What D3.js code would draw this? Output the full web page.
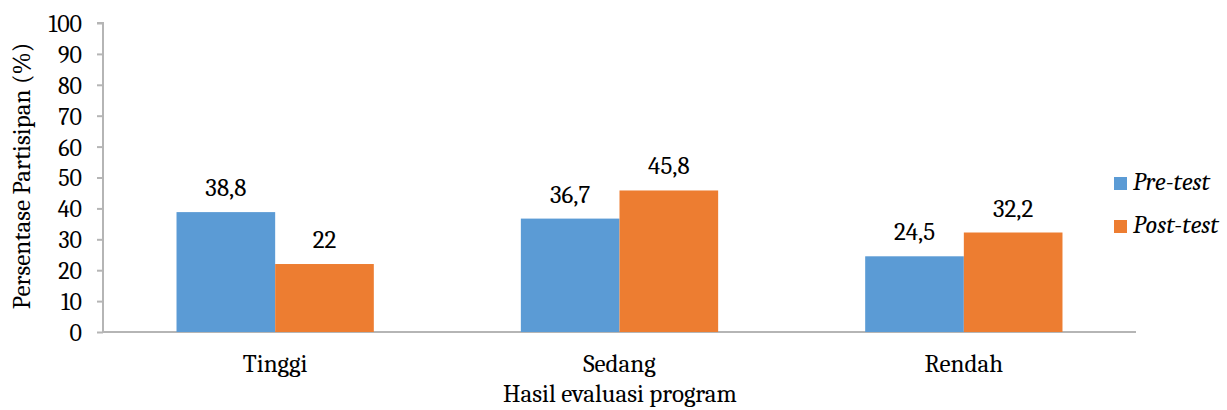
<!DOCTYPE html>
<html>
<head>
<meta charset="utf-8">
<title>Hasil evaluasi program</title>
<style>
  body { margin: 0; background: #fff; }
  svg text { font-family: Cambria, "DejaVu Serif", serif; fill: #000; }
  .axis path, .axis line { stroke: #b5b5b5; stroke-width: 2; }
</style>
</head>
<body>
<svg width="1227" height="410"></svg>
<script src="https://cdn.jsdelivr.net/npm/d3@7"></script>
<script>
// data
const categories = ['Tinggi', 'Sedang', 'Rendah'];
const seriesNames = ['Pre-test', 'Post-test'];
const preTest = [38.8, 36.7, 24.5];
const postTest = [22, 45.8, 32.2];
const yTicks = [0, 10, 20, 30, 40, 50, 60, 70, 80, 90, 100];
const colors = ['#5b9bd5', '#ed7d31'];

const svg = d3.select('svg');
const plotLeft = 103, plotRight = 1136, plotTop = 23, plotBottom = 332;

const x = d3.scaleBand().domain(categories).range([plotLeft, plotRight]);
const x1 = d3.scaleBand().domain(seriesNames)
  .range([0, x.bandwidth() * 0.573]);
const y = d3.scaleLinear().domain([0, 100]).range([plotBottom, plotTop]);

// y axis
const yAxis = svg.append('g')
  .attr('class', 'axis')
  .attr('transform', `translate(${plotLeft},0)`)
  .call(d3.axisLeft(y).tickValues(yTicks).tickSize(6).tickSizeOuter(6).tickPadding(15));
yAxis.selectAll('text').style('font-size', '24px').attr('dy', '0.35em');
yAxis.select('.domain').attr('d', `M-6,${plotTop}H0V${plotBottom}`);

// x axis
const xAxis = svg.append('g')
  .attr('class', 'axis')
  .attr('transform', `translate(0,${plotBottom})`)
  .call(d3.axisBottom(x).tickSize(0).tickPadding(22));
xAxis.selectAll('text').style('font-size', '25px').attr('dy', '0.71em');
xAxis.select('.domain').attr('d', `M${plotLeft},0H${plotRight}`);

// bars
const data = categories.map((c, i) => ({ cat: c, vals: [preTest[i], postTest[i]] }));
const groups = svg.append('g').selectAll('g')
  .data(data).join('g')
  .attr('transform', d => `translate(${x(d.cat) + (x.bandwidth() - x1.range()[1]) / 2},0)`);

groups.selectAll('rect')
  .data(d => d.vals.map((v, j) => ({ s: seriesNames[j], v, j })))
  .join('rect')
  .attr('x', d => x1(d.s))
  .attr('y', d => y(d.v))
  .attr('width', x1.bandwidth())
  .attr('height', d => plotBottom - y(d.v))
  .attr('fill', d => colors[d.j]);

groups.selectAll('text')
  .data(d => d.vals.map((v, j) => ({ s: seriesNames[j], v, j })))
  .join('text')
  .attr('x', d => x1(d.s) + x1.bandwidth() / 2)
  .attr('y', d => y(d.v) - 16)
  .attr('text-anchor', 'middle')
  .style('font-size', '25px')
  .text(d => String(d.v).replace('.', ','));

// axis titles
svg.append('text')
  .attr('x', 620)
  .attr('y', 402)
  .attr('text-anchor', 'middle')
  .style('font-size', '25px')
  .text('Hasil evaluasi program');

svg.append('text')
  .attr('transform', `translate(30,176) rotate(-90)`)
  .attr('text-anchor', 'middle')
  .style('font-size', '25px')
  .text('Persentase Partisipan (%)');

// legend
const legend = svg.append('g').selectAll('g')
  .data(seriesNames).join('g')
  .attr('transform', (d, i) => `translate(1114,${177 + i * 43})`);
legend.append('rect')
  .attr('width', 13).attr('height', 13)
  .attr('fill', (d, i) => colors[i]);
legend.append('text')
  .attr('x', 19).attr('y', 13)
  .style('font-size', '25px')
  .style('font-style', 'italic')
  .text(d => d);
</script>
</body>
</html>
